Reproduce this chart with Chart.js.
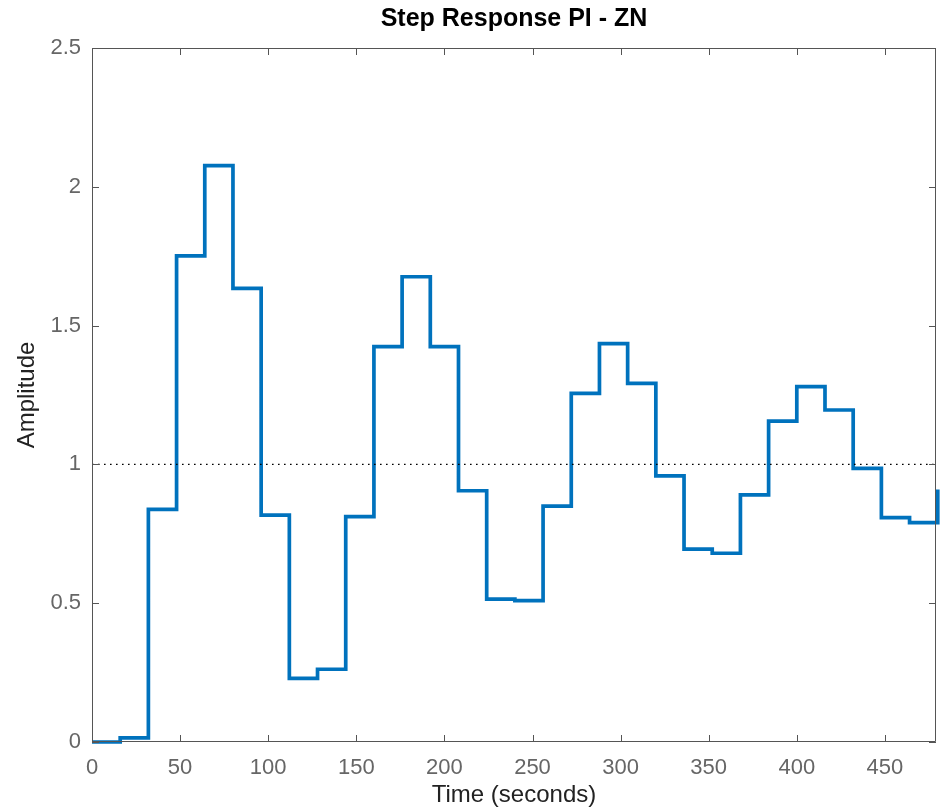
<!DOCTYPE html>
<html>

<head>
    <meta charset="UTF-8">
    <title>Step Response PI - ZN</title>
    <style>
        body {
            margin: 0;
            background-color: #fff;
        }

        #chart-box {
            width: 943px;
            height: 810px;
        }
    </style>
</head>

<body>
    <div id="chart-box">
        <canvas id="chart" width="943" height="810"></canvas>
    </div>

    <script src="https://cdn.jsdelivr.net/npm/chart.js"></script>
    <script>
        // sample instants (s) and held amplitude of the discrete step response
        const times = [0, 16, 32, 48, 64, 80, 96, 112, 128, 144, 160, 176, 192, 208, 224, 240,
            256, 272, 288, 304, 320, 336, 352, 368, 384, 400, 416, 432, 448, 464, 480];
        const amplitude = [0, 0.015, 0.838, 1.751, 2.076, 1.634, 0.817, 0.229, 0.262, 0.812,
            1.424, 1.676, 1.424, 0.905, 0.515, 0.509, 0.850, 1.256, 1.435, 1.292, 0.959,
            0.695, 0.680, 0.890, 1.156, 1.280, 1.196, 0.986, 0.808, 0.790, 0.910];

        // steady-state reference line
        const refTimes = [0, 479];
        const refLevel = [1, 1];

        const xTicks = [0, 50, 100, 150, 200, 250, 300, 350, 400, 450];
        const yTicks = [0, 0.5, 1, 1.5, 2, 2.5];

        const fontFamily = '"Liberation Sans", Arial, Helvetica, sans-serif';
        const axisColor = "#555";

        // box around the axes with small inward tick marks on all four sides
        const axesBox = {
            id: "axesBox",
            afterDraw(chart) {
                const { ctx, chartArea: a, scales: { x, y } } = chart;
                const len = 7;
                ctx.save();
                ctx.strokeStyle = axisColor;
                ctx.lineWidth = 1;
                ctx.beginPath();
                ctx.rect(Math.round(a.left) + 0.5, Math.round(a.top) + 0.5,
                    Math.round(a.right - a.left) - 1, Math.round(a.bottom - a.top) - 1);
                xTicks.forEach(v => {
                    const px = Math.round(x.getPixelForValue(v)) + 0.5;
                    ctx.moveTo(px, a.bottom);
                    ctx.lineTo(px, a.bottom - len);
                    ctx.moveTo(px, a.top);
                    ctx.lineTo(px, a.top + len);
                });
                yTicks.forEach(v => {
                    const py = Math.round(y.getPixelForValue(v)) + 0.5;
                    ctx.moveTo(a.left, py);
                    ctx.lineTo(a.left + len, py);
                    ctx.moveTo(a.right, py);
                    ctx.lineTo(a.right - len, py);
                });
                ctx.stroke();
                ctx.restore();
            }
        };

        const ctx = document.querySelector("#chart").getContext("2d");
        const chart = new Chart(ctx, {
            type: "line",
            data: {
                datasets: [{
                    label: "Reference",
                    data: refTimes.map((t, i) => ({ x: t, y: refLevel[i] })),
                    borderColor: "#000",
                    borderWidth: 1.4,
                    borderDash: [1.6, 4.4],
                    pointRadius: 0,
                    fill: false,
                }, {
                    label: "Step response",
                    data: times.map((t, i) => ({ x: t, y: amplitude[i] })),
                    borderColor: "#0072BD",
                    borderWidth: 3.7,
                    pointRadius: 0,
                    stepped: "before",
                    fill: false,
                    clip: 4,
                }],
            },
            options: {
                responsive: false,
                animation: false,
                layout: {
                    padding: { left: 0, right: 7, top: 0, bottom: 0 },
                },
                plugins: {
                    legend: { display: false },
                    tooltip: { enabled: false },
                    title: {
                        display: true,
                        fullSize: false,
                        text: "Step Response PI - ZN",
                        color: "#000",
                        font: { family: fontFamily, size: 25, weight: "bold" },
                        padding: { top: 4, bottom: 14 },
                    },
                },
                scales: {
                    x: {
                        type: "linear",
                        min: 0,
                        max: 479,
                        afterBuildTicks: scale => {
                            scale.ticks = xTicks.map(v => ({ value: v }));
                        },
                        afterFit: scale => {
                            scale.height = 68;
                        },
                        grid: { display: false, drawTicks: false },
                        border: { display: false },
                        ticks: {
                            color: "#666",
                            font: { family: fontFamily, size: 22 },
                            padding: 13,
                            maxRotation: 0,
                            callback: v => String(v),
                        },
                        title: {
                            display: true,
                            text: "Time (seconds)",
                            color: "#222",
                            font: { family: fontFamily, size: 24 },
                            padding: { top: 0, bottom: 0 },
                        },
                    },
                    y: {
                        type: "linear",
                        min: 0,
                        max: 2.5,
                        afterBuildTicks: scale => {
                            scale.ticks = yTicks.map(v => ({ value: v }));
                        },
                        afterFit: scale => {
                            scale.width = 92;
                        },
                        grid: { display: false, drawTicks: false },
                        border: { display: false },
                        ticks: {
                            color: "#666",
                            font: { family: fontFamily, size: 22 },
                            padding: 11,
                            callback: v => String(v),
                        },
                        title: {
                            display: true,
                            text: "Amplitude",
                            color: "#222",
                            font: { family: fontFamily, size: 24 },
                            padding: { top: 13, bottom: 0 },
                        },
                    },
                },
            },
            plugins: [axesBox],
        });
    </script>
</body>

</html>
